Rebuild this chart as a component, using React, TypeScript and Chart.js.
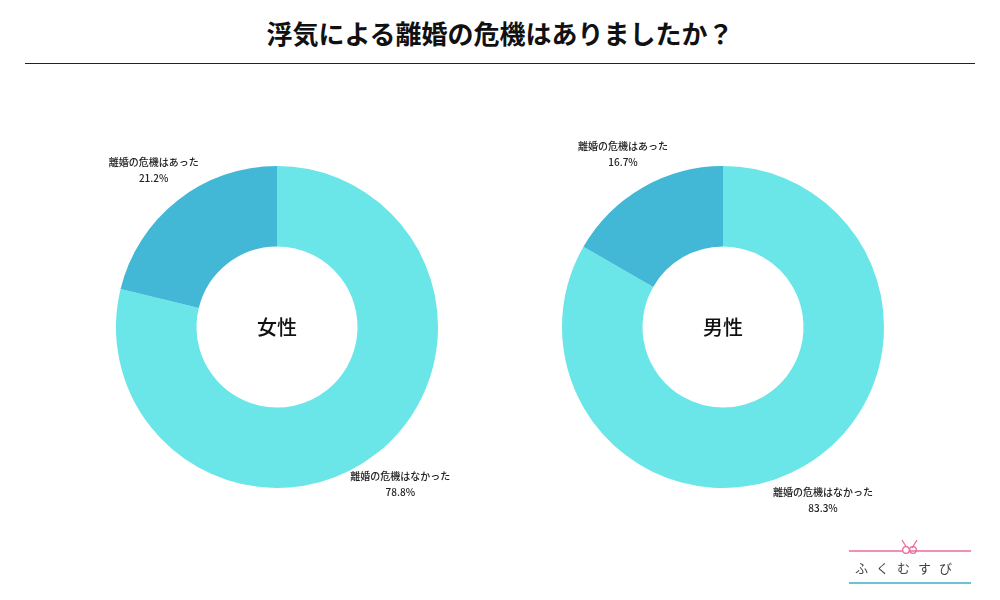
import React, { useEffect, useRef } from "react";
import { Chart, registerables } from "chart.js";
Chart.register(...registerables);

const TITLE = "浮気による離婚の危機はありましたか？";
const categories = ["離婚の危機はなかった", "離婚の危機はあった"];
const femaleValues = [78.8, 21.2];
const maleValues = [83.3, 16.7];
const groupLabels = ["女性", "男性"];
const sliceColors = ["#6AE5E8", "#42B8D6"];
const LOGO_TEXT = "ふくむすび";
const FONT = "'Noto Sans CJK JP', 'Noto Sans', sans-serif";

const labelPlugin = {
  id: "sliceLabels",
  afterDraw(chart: any, _args: any, opts: any) {
    const ctx = chart.ctx;
    const meta = chart.getDatasetMeta(0);
    const ds = chart.data.datasets[0];
    meta.data.forEach((arc: any, i: number) => {
      const { x, y, startAngle, endAngle, outerRadius } = arc.getProps(
        ["x", "y", "startAngle", "endAngle", "outerRadius"],
        true
      );
      const mid = (startAngle + endAngle) / 2;
      const r = outerRadius * 1.24;
      const lx = x + Math.cos(mid) * r;
      const ly = y + Math.sin(mid) * r;
      ctx.save();
      ctx.font = `500 10px ${FONT}`;
      ctx.fillStyle = "#222";
      ctx.textAlign = "center";
      ctx.textBaseline = "middle";
      ctx.fillText(chart.data.labels[i], lx, ly - 8);
      ctx.fillText(ds.data[i].toFixed(1) + "%", lx, ly + 8);
      ctx.restore();
    });
    const c = meta.data[0];
    if (c && opts && opts.center) {
      ctx.save();
      ctx.font = `500 20px ${FONT}`;
      ctx.fillStyle = "#111";
      ctx.textAlign = "center";
      ctx.textBaseline = "middle";
      ctx.fillText(opts.center, c.x, c.y);
      ctx.restore();
    }
  },
};

function Donut({ values, center, left }: { values: number[]; center: string; left: number }) {
  const ref = useRef<HTMLCanvasElement | null>(null);
  useEffect(() => {
    if (!ref.current) return;
    const chart = new Chart(ref.current, {
      type: "doughnut",
      data: {
        labels: categories,
        datasets: [
          {
            data: values,
            backgroundColor: sliceColors,
            borderWidth: 0,
            hoverOffset: 0,
          },
        ],
      },
      options: {
        responsive: false,
        animation: false,
        cutout: "50%",
        layout: { padding: { left: 59, right: 59, top: 69, bottom: 69 } },
        plugins: {
          legend: { display: false },
          tooltip: { enabled: false },
          sliceLabels: { center },
        } as any,
      },
      plugins: [labelPlugin as any],
    });
    return () => chart.destroy();
  }, [values, center]);
  return (
    <canvas
      ref={ref}
      width={440}
      height={460}
      style={{ position: "absolute", left, top: 97, width: 440, height: 460, display: "block" }}
    />
  );
}

export default function App() {
  return (
    <div
      style={{
        position: "absolute",
        left: 0,
        top: 0,
        width: 1000,
        height: 600,
        background: "#fff",
        fontFamily: FONT,
        overflow: "hidden",
      }}
    >
      <div
        style={{
          position: "absolute",
          left: 0,
          top: 14,
          width: 1000,
          textAlign: "center",
          fontSize: 26,
          fontWeight: 700,
          lineHeight: "38px",
          color: "#111",
        }}
      >
        {TITLE}
      </div>
      <div style={{ position: "absolute", left: 25, top: 63, width: 950, height: 1, background: "#222" }} />
      <Donut values={femaleValues} center={groupLabels[0]} left={57} />
      <Donut values={maleValues} center={groupLabels[1]} left={503} />
      <svg style={{ position: "absolute", left: 840, top: 535 }} width={140} height={55}>
        <line x1={9} y1={16} x2={131} y2={16} stroke="#EC6A9C" strokeWidth={1.5} />
        <path d="M62 5 Q65 10 67 13" stroke="#EC6A9C" strokeWidth={1.3} fill="none" />
        <path d="M77 5 Q74 10 72 13" stroke="#EC6A9C" strokeWidth={1.3} fill="none" />
        <circle cx={66} cy={15} r={3.3} stroke="#EC6A9C" strokeWidth={1.3} fill="#fff" />
        <circle cx={73} cy={15} r={3.3} stroke="#EC6A9C" strokeWidth={1.3} fill="none" />
        <line x1={9} y1={48} x2={131} y2={48} stroke="#6CC3D3" strokeWidth={2} />
      </svg>
      <div
        style={{
          position: "absolute",
          left: 855,
          top: 558,
          width: 120,
          fontSize: 13,
          letterSpacing: 8,
          color: "#444",
          lineHeight: "20px",
          whiteSpace: "nowrap",
        }}
      >
        {LOGO_TEXT}
      </div>
    </div>
  );
}
